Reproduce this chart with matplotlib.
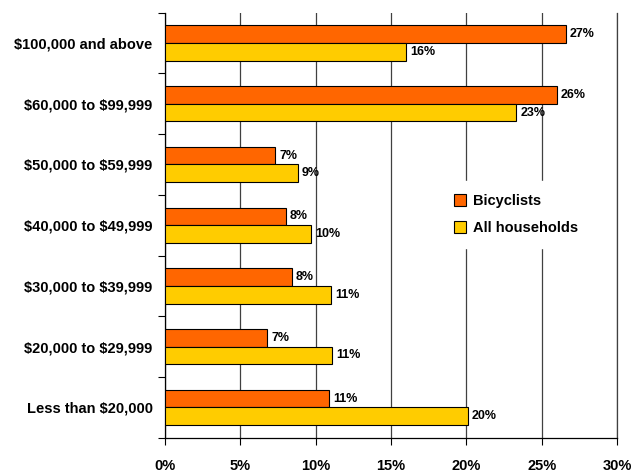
import numpy as np
import matplotlib.pyplot as plt

# Income brackets, bottom to top
categories = ["Less than \\$20,000", "\\$20,000 to \\$29,999", "\\$30,000 to \\$39,999",
              "\\$40,000 to \\$49,999", "\\$50,000 to \\$59,999", "\\$60,000 to \\$99,999",
              "\\$100,000 and above"]
bicyclists = [10.9, 6.8, 8.4, 8.0, 7.3, 26.0, 26.6]
households = [20.1, 11.1, 11.0, 9.7, 8.8, 23.3, 16.0]
xticks = [0, 5, 10, 15, 20, 25, 30]

plt.rcParams["font.family"] = ["Liberation Sans", "DejaVu Sans"]

fig = plt.figure(figsize=(6.33, 4.72), dpi=100)
ax = fig.add_axes([165 / 633, 1 - 437.7 / 472, 452 / 633, 425 / 472])

y = np.arange(len(categories))
h = 0.29
b1 = ax.barh(y + h / 2, bicyclists, height=h, color="#FF6600", edgecolor="black",
             linewidth=0.8, label="Bicyclists", zorder=3)
b2 = ax.barh(y - h / 2, households, height=h, color="#FFCC00", edgecolor="black",
             linewidth=0.8, label="All households", zorder=3)

for bars, vals in ((b1, bicyclists), (b2, households)):
    for bar, v in zip(bars, vals):
        ax.annotate(f"{v:.0f}%", (v, bar.get_y() + bar.get_height() / 2),
                    xytext=(3, 0), textcoords="offset points", va="center",
                    ha="left", fontsize=9, fontweight="bold", zorder=4)

ax.set_xlim(0, 30)
ax.set_ylim(-0.5, len(categories) - 0.5)
ax.set_xticks(xticks)
ax.set_xticklabels([f"{t}%" for t in xticks], fontsize=10.5, fontweight="bold")
ax.set_yticks(y)
ax.set_yticklabels(categories, fontsize=10.5, fontweight="bold")
ax.set_yticks(np.arange(-0.5, len(categories)), minor=True)
ax.tick_params(axis="y", which="major", length=0, pad=9)
ax.tick_params(axis="y", which="minor", length=5, width=0.8, direction="out")
ax.tick_params(axis="x", length=5, width=0.8, pad=10)

ax.grid(axis="x", color="#404040", linewidth=0.9, zorder=0)
ax.set_axisbelow(True)
ax.spines["top"].set_visible(False)
ax.spines["right"].set_color("#404040")
ax.spines["right"].set_linewidth(0.9)
for side in ("left", "bottom"):
    ax.spines[side].set_linewidth(0.9)

leg = ax.legend(loc="center left", bbox_to_anchor=(0.595, 0.525), frameon=True,
                fancybox=False, framealpha=1, edgecolor="white",
                prop={"size": 10.5, "weight": "bold"}, handlelength=0.8,
                handleheight=0.8, handletextpad=0.5, labelspacing=0.9,
                borderpad=0.9)

fig.savefig("out.png", dpi=100)
